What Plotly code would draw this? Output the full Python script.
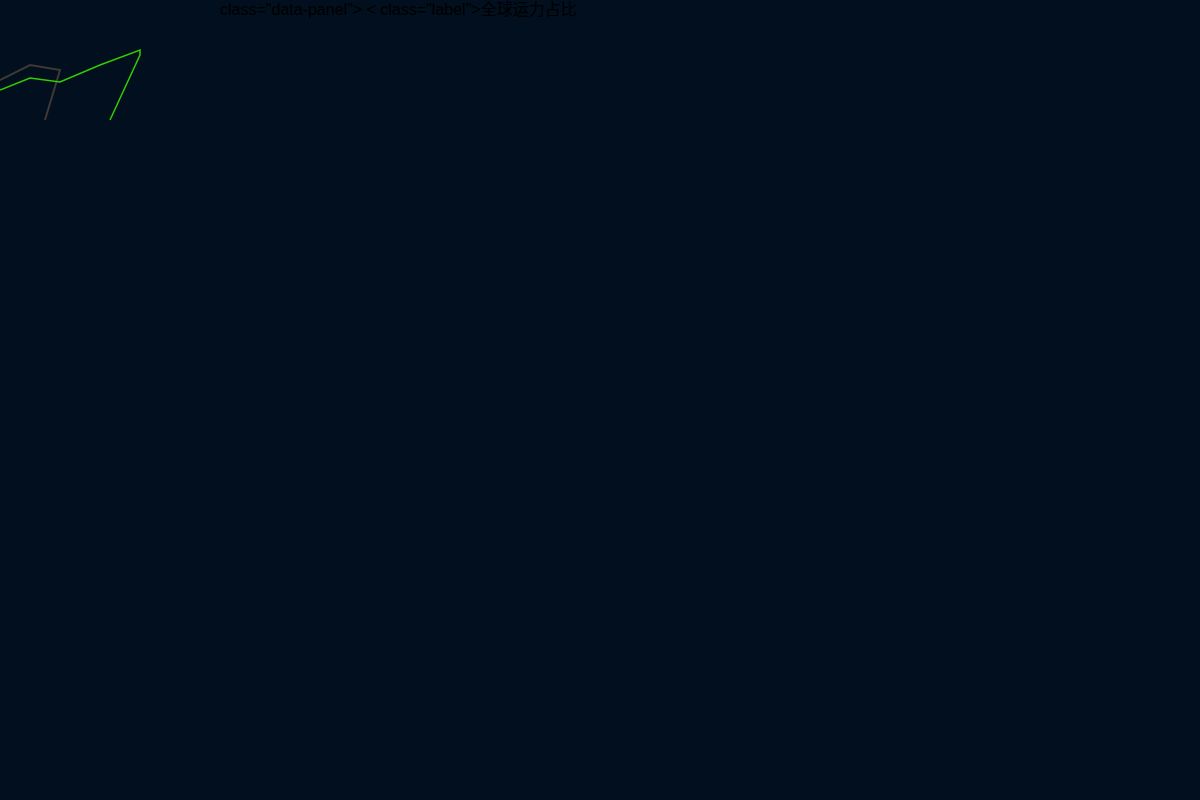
import plotly.graph_objects as go

# Line data (page pixel coordinates, y grows downward)
gray_x = [0, 30, 60, 45]
gray_y = [80, 65, 70, 120]

green_x = [0, 30, 60, 100, 140, 140, 110]
green_y = [90, 78, 82, 65, 50, 55, 120]

label_text = 'class=&#34;data-panel&#34;&gt; &lt; class=&#34;label&#34;&gt;全球运力占比'

bg = '#020f1e'

fig = go.Figure()
fig.add_trace(go.Scatter(x=gray_x, y=gray_y, mode='lines',
                         line=dict(color='#3d3a33', width=2), hoverinfo='skip'))
fig.add_trace(go.Scatter(x=green_x, y=green_y, mode='lines',
                         line=dict(color='#33cc00', width=1.5), hoverinfo='skip'))

fig.add_annotation(x=218, y=9, xref='x', yref='y', text=label_text,
                   showarrow=False, xanchor='left', yanchor='middle',
                   font=dict(family='Liberation Sans, Noto Sans CJK SC', size=16, color='#000000'))

fig.update_layout(
    width=1200, height=800,
    margin=dict(l=0, r=0, t=0, b=0),
    paper_bgcolor=bg, plot_bgcolor=bg,
    showlegend=False,
    xaxis=dict(range=[0, 1200], visible=False, fixedrange=True),
    yaxis=dict(range=[800, 0], visible=False, fixedrange=True),
)

# drop the default page margin so the figure fills the window
fig.write_html("out.html", config={'displayModeBar': False},
               post_script="document.body.style.margin='0';document.body.style.background='%s';" % bg)
